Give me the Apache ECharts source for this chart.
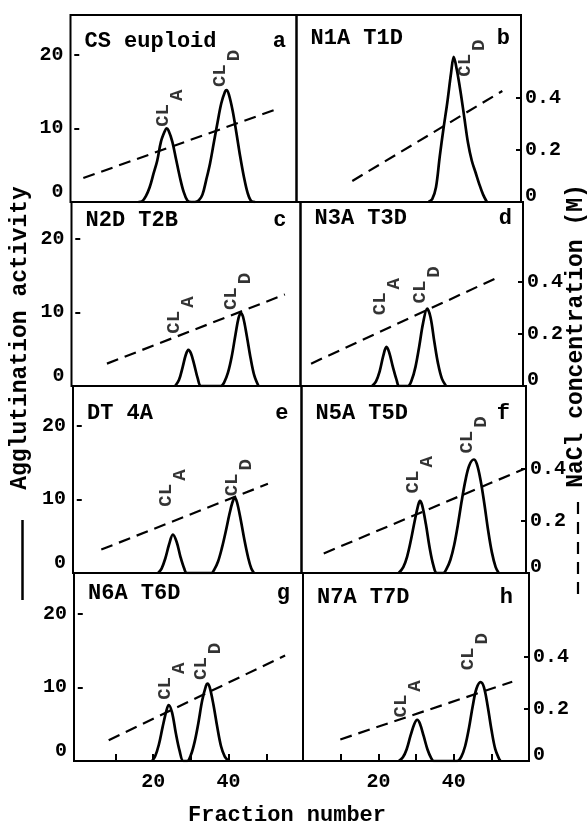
<!DOCTYPE html>
<html><head><meta charset="utf-8">
<script src="https://cdn.jsdelivr.net/npm/echarts@6/dist/echarts.min.js"></script>
<style>html,body{margin:0;padding:0;background:#fff}#c{width:587px;height:823px}</style>
</head><body><div id="c"></div>
<script>
// ---------------- data ----------------
const panelNames = ['CS euploid', 'N1A T1D', 'N2D T2B', 'N3A T3D', 'DT 4A', 'N5A T5D', 'N6A T6D', 'N7A T7D'];
const panelLetters = ['a', 'b', 'c', 'd', 'e', 'f', 'g', 'h'];
const xTickValues = [10, 20, 30, 40, 50];
const xLabelValues = [20, 40];
const actTickValues = [10, 20];
const actLabelValues = [0, 10, 20];
const naclTickValues = [0.2, 0.4];
const naclLabelValues = [0, 0.2, 0.4];

// agglutination activity: [fraction number, activity]
const act_a = [[17,0],[18,0.1],[19,0.8],[20,2.0],[21,3.8],[22,5.6],[23,8.2],[24,9.6],[24.5,10],[25,9.7],[26,8.2],[27,5.8],[28,3.4],[29,1.4],[30,0.2],[31,0],[32,0],[33,0.2],[34,1.0],[35,3.0],[36,5.2],[37,8.0],[38,10.8],[39,13.4],[40,15.0],[40.4,15.2],[41,14.6],[42,12.4],[43,9.4],[44,6.2],[45,3.4],[46,1.2],[47,0.1],[48,0]];
const act_b = [[35,0],[36,0.4],[37,2.0],[38,6.2],[39,10.0],[40,13.5],[41,17.5],[41.7,19.7],[42.5,18.0],[43.5,15.0],[44.5,11.5],[45.5,8.0],[46.5,5.6],[47.5,4.0],[48.5,2.4],[49.5,1.0],[50.5,0]];
const act_c = [[26.5,0],[27.5,0.8],[28.5,2.6],[29.3,4.2],[30,4.9],[30.7,4.4],[31.5,3.0],[32.5,1.0],[33.4,0],[38.6,0],[39.5,0.5],[40.5,1.8],[41.5,4.0],[42.5,7.0],[43.3,9.2],[43.9,9.9],[44.5,9.4],[45.5,6.8],[46.5,3.8],[47.5,1.4],[48.6,0]];
const act_d = [[19,0],[20,0.6],[21,2.0],[22,4.2],[22.8,5.3],[23.5,4.6],[24.5,2.6],[25.5,0.8],[26.2,0],[28.5,0],[29.5,0.8],[30.5,2.6],[31.5,5.4],[32.5,8.5],[33.6,10.5],[34.5,9.3],[35.5,6.0],[36.5,3.0],[37.5,1.0],[38.6,0]];
const act_e = [[21.6,0],[22.5,0.6],[23.5,2.0],[24.5,3.9],[25.5,5.2],[26.5,4.2],[27.5,2.2],[28.5,0.6],[29.2,0],[35.7,0],[36.5,0.5],[37.5,1.6],[38.5,3.4],[39.5,5.6],[40.5,8.0],[41.3,9.6],[41.9,10.2],[42.5,9.6],[43.5,7.2],[44.5,4.4],[45.5,2.0],[46.3,0.6],[47,0]];
const act_f = [[25.8,0],[27,0.8],[28,2.2],[29,4.4],[30,7.0],[31,9.3],[31.4,9.8],[32,9.2],[33,6.6],[34,3.4],[35,1.0],[35.9,0],[37.6,0],[38.5,0.6],[39.5,1.8],[40.5,3.8],[41.5,6.6],[42.5,9.8],[43.5,12.6],[44.5,14.6],[45.7,15.4],[46.5,14.8],[47.5,12.6],[48.5,9.4],[49.5,5.8],[50.5,2.8],[51.5,0.8],[52.3,0]];
const act_g = [[19.7,0],[20.5,0.6],[21.5,2.2],[22.5,4.6],[23.5,6.8],[24.1,7.6],[25,6.6],[26,3.8],[27,1.4],[28,0],[29,0],[30,0.8],[31,2.6],[32,5.2],[33,8.2],[34,10.2],[34.4,10.5],[35,10.0],[36,7.6],[37,4.6],[38,2.0],[39,0.6],[40,0]];
const act_h = [[25.4,0],[26.5,0.5],[27.5,1.6],[28.5,3.4],[29.5,5.0],[30.3,5.6],[31,5.1],[32,3.4],[33,1.6],[34,0.4],[34.7,0],[40.9,0],[42,0.6],[43,2.0],[44,4.4],[45,7.4],[46,9.8],[47.1,10.7],[48,10.0],[49,7.4],[50,4.2],[51,1.6],[52,0.3],[52.4,0]];

// NaCl gradient (M): [fraction number, concentration] at start and end
const nacl_a = [[2.4,0.092],[53.7,0.357]];
const nacl_b = [[14.8,0.081],[54.6,0.427]];
const nacl_c = [[8.4,0.086],[55.6,0.352]];
const nacl_d = [[2.8,0.086],[52.2,0.417]];
const nacl_e = [[6.5,0.090],[50.7,0.343]];
const nacl_f = [[5.9,0.075],[59.0,0.400]];
const nacl_g = [[8.2,0.080],[55.0,0.406]];
const nacl_h = [[9.9,0.083],[55.5,0.305]];

// peak annotations: [subscript, fraction, activity] (label anchor)
const peaks_a = [['A',25.4,10.2],['D',40.6,15.6]];
const peaks_b = [['D',46.7,17.0]];
const peaks_c = [['A',28.2,7.1],['D',43.2,10.3]];
const peaks_d = [['A',22.9,9.6],['D',33.7,11.2]];
const peaks_e = [['A',25.5,9.0],['D',43.2,10.4]];
const peaks_f = [['A',31.6,10.8],['D',45.9,16.2]];
const peaks_g = [['A',25.1,8.3],['D',34.5,11.0]];
const peaks_h = [['A',27.8,5.9],['D',45.7,12.3]];

const acts = [act_a, act_b, act_c, act_d, act_e, act_f, act_g, act_h];
const nacls = [nacl_a, nacl_b, nacl_c, nacl_d, nacl_e, nacl_f, nacl_g, nacl_h];
const peaks = [peaks_a, peaks_b, peaks_c, peaks_d, peaks_e, peaks_f, peaks_g, peaks_h];

// ---------------- layout ----------------
const F = "'Liberation Mono', 'Courier New', monospace";
const rows = [
  {top: 15,  bottom: 202, L: 70.5, M: 296.5, R: 521},
  {top: 202, bottom: 386, L: 71.5, M: 300.5, R: 523},
  {top: 386, bottom: 573, L: 73,   M: 301.5, R: 526},
  {top: 573, bottom: 761, L: 74,   M: 303,   R: 529}
];
const nameOffY = [26, 23, 18, 16, 27, 27, 20, 24];
const letterOffX = [10.5, 11, 14, 11, 13, 16, 13, 16];
const PX_X = 3.77, PX_Y = 7.37, PX_N = 260;

const grid = [], xAxis = [], yAxis = [], series = [], graphic = [];
const txt = {fontFamily: F, fontSize: 20, fontWeight: 'bold', color: '#000'};

for (let i = 0; i < 8; i++) {
  const r = Math.floor(i / 2), c = i % 2, row = rows[r];
  const left = c ? row.M : row.L;
  const width = c ? row.R - row.M : row.M - row.L;
  const height = row.bottom - row.top;
  grid.push({left: left, top: row.top, width: width, height: height, show: true,
    borderColor: '#000', borderWidth: 2, backgroundColor: 'transparent'});
  const xmin = c ? 0 : -1;
  const bottomRow = r === 3;
  xAxis.push({type: 'value', gridIndex: i, min: xmin, max: xmin + width / PX_X,
    axisLine: {show: false}, splitLine: {show: false},
    axisTick: {show: bottomRow, inside: true, length: 7, customValues: xTickValues, lineStyle: {color: '#000', width: 2}},
    axisLabel: {show: bottomRow, customValues: xLabelValues, margin: 11, ...txt}
  });
  yAxis.push({type: 'value', gridIndex: i, min: 0, max: height / PX_Y, position: 'left',
    axisLine: {show: false}, splitLine: {show: false},
    axisTick: {show: c === 0, inside: true, length: 5, customValues: actTickValues, lineStyle: {color: '#000', width: 2}},
    axisLabel: {show: c === 0, customValues: actLabelValues, margin: 7, ...txt,
      formatter: v => v === 0 ? '{z|0}' : String(v),
      rich: {z: {...txt, padding: [0, 0, 20, 0]}}}
  });
  yAxis.push({type: 'value', gridIndex: i, min: 0, max: height / PX_N, position: 'right',
    axisLine: {show: false}, splitLine: {show: false},
    axisTick: {show: c === 1, inside: true, length: 5, customValues: naclTickValues, lineStyle: {color: '#000', width: 2}},
    axisLabel: {show: c === 1, customValues: naclLabelValues, margin: 4, ...txt,
      formatter: v => v === 0 ? '{z|0}' : v.toFixed(1),
      rich: {z: {...txt, padding: [0, 0, 12, 0]}}}
  });
  series.push({type: 'line', xAxisIndex: i, yAxisIndex: 2 * i, data: acts[i], smooth: 0.35,
    showSymbol: false, lineStyle: {color: '#000', width: 2.7}, silent: true, z: 3});
  series.push({type: 'line', xAxisIndex: i, yAxisIndex: 2 * i + 1, data: nacls[i],
    showSymbol: false, lineStyle: {color: '#000', width: 2.2, type: [12, 7]}, silent: true, z: 3});
  series.push({type: 'scatter', xAxisIndex: i, yAxisIndex: 2 * i, symbolSize: 1,
    itemStyle: {color: 'transparent'}, silent: true, z: 4,
    data: peaks[i].map(p => ({name: p[0], value: [p[1], p[2]]})),
    label: {show: true, position: 'inside', rotate: 90, align: 'left', verticalAlign: 'middle',
      formatter: p => '{m|CL}{s|' + p.name + '}',
      rich: {
        m: {fontFamily: F, fontSize: 19, fontWeight: 'bold', color: '#000', verticalAlign: 'top'},
        s: {fontFamily: F, fontSize: 19, fontWeight: 'bold', color: '#000', verticalAlign: 'top', padding: [14, 0, 0, 3]}
      }}
  });
  graphic.push({type: 'text', x: left + 14, y: row.top + nameOffY[i], silent: true,
    style: {text: panelNames[i], fontFamily: F, fontSize: 22, fontWeight: 'bold', fill: '#000', align: 'left', verticalAlign: 'middle'}});
  graphic.push({type: 'text', x: left + width - letterOffX[i], y: row.top + nameOffY[i], silent: true,
    style: {text: panelLetters[i], fontFamily: F, fontSize: 22, fontWeight: 'bold', fill: '#000', align: 'right', verticalAlign: 'middle'}});
}

// axis titles and line keys
graphic.push({type: 'text', x: 20, y: 338, rotation: Math.PI / 2, silent: true,
  style: {text: 'Agglutination activity', fontFamily: F, fontSize: 23, fontWeight: 'bold', fill: '#000', align: 'center', verticalAlign: 'middle'}});
graphic.push({type: 'line', silent: true, shape: {x1: 22.5, y1: 520, x2: 22.5, y2: 600}, style: {stroke: '#000', lineWidth: 2.5}});
graphic.push({type: 'text', x: 576, y: 336, rotation: Math.PI / 2, silent: true,
  style: {text: 'NaCl concentration (M)', fontFamily: F, fontSize: 23, fontWeight: 'bold', fill: '#000', align: 'center', verticalAlign: 'middle'}});
graphic.push({type: 'line', silent: true, shape: {x1: 578, y1: 502, x2: 578, y2: 600}, style: {stroke: '#000', lineWidth: 2.2, lineDash: [12, 8]}});
graphic.push({type: 'text', x: 287, y: 815, silent: true,
  style: {text: 'Fraction number', fontFamily: F, fontSize: 22, fontWeight: 'bold', fill: '#000', align: 'center', verticalAlign: 'middle'}});

const chart = echarts.init(document.getElementById('c'), null, {renderer: 'canvas'});
chart.setOption({animation: false, backgroundColor: '#fff', grid, xAxis, yAxis, series, graphic});
</script>
</body></html>
